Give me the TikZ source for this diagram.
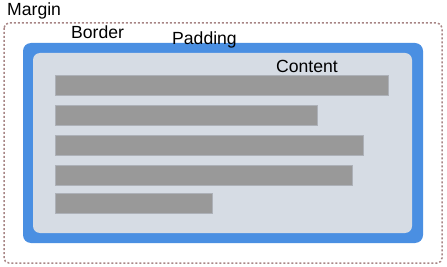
\documentclass[tikz,border=0pt]{standalone}
\usepackage{fontspec}
\setmainfont{Liberation Sans}
\usetikzlibrary{positioning}
\definecolor{MarginLine}{HTML}{A88585}
\definecolor{BorderBlue}{HTML}{4A8FE2}
\definecolor{PadFill}{HTML}{D6DCE4}
\definecolor{LineFill}{HTML}{999999}
\definecolor{LineEdge}{HTML}{ADB1B8}
\newcommand{\TextLine}[2]{%
  \fill[LineFill,draw=LineEdge,line width=0.8pt] (55,#1) rectangle (#2,#1+20);%
}

\begin{document}
\begin{tikzpicture}[x=1pt,y=-1pt]
\tikzset{boxlabel/.style={anchor=base west,inner sep=0pt,font=\fontsize{17.6}{20}\selectfont}}
\useasboundingbox (0,0) rectangle (447,267);
% margin
\draw[MarginLine,line width=1.5pt,dash pattern=on 2pt off 2pt,rounded corners=5pt] (4,23) rectangle (442,263);
% border and padding
\fill[BorderBlue,rounded corners=8pt] (23,43) rectangle (423,243);
\fill[PadFill,rounded corners=7pt] (33,53) rectangle (412,233);
% content lines
\TextLine{75}{388}
\TextLine{105}{317}
\TextLine{135}{363}
\TextLine{165}{352}
\TextLine{193}{212}
% labels
\node[boxlabel] (margin) at (7,16) {Margin};
\node[boxlabel] (border) at (71,39) {Border};
\node[boxlabel] (padding) at (172,45) {Padding};
\node[boxlabel] (content) at (276,73) {Content};
\end{tikzpicture}
\end{document}
